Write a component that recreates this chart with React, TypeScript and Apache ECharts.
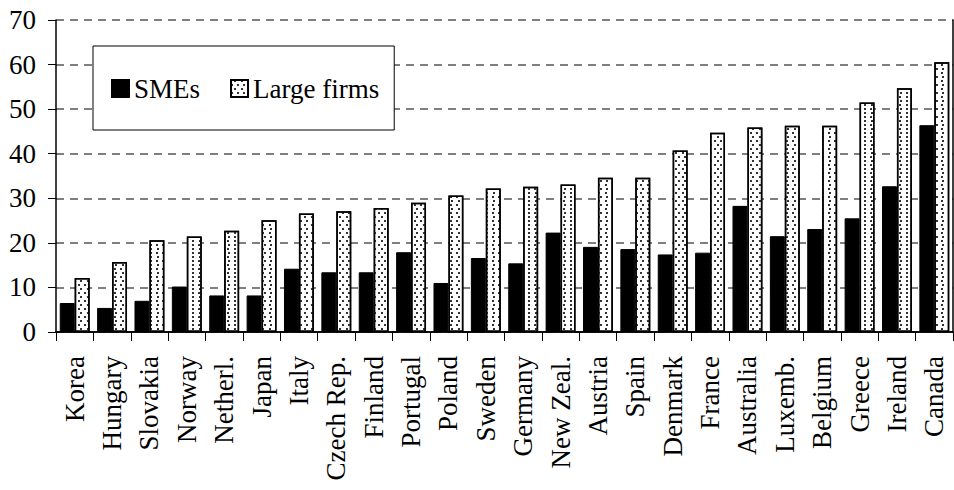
import React, { useEffect, useRef } from "react";
import * as echarts from "echarts";

const categories = ["Korea", "Hungary", "Slovakia", "Norway", "Netherl.", "Japan", "Italy", "Czech Rep.", "Finland", "Portugal", "Poland", "Sweden", "Germany", "New Zeal.", "Austria", "Spain", "Denmark", "France", "Australia", "Luxemb.", "Belgium", "Greece", "Ireland", "Canada"];
const smes = [6.5, 5.4, 7.0, 10.2, 8.2, 8.2, 14.2, 13.4, 13.4, 17.9, 11.0, 16.6, 15.4, 22.3, 19.1, 18.6, 17.4, 17.8, 28.3, 21.5, 23.1, 25.5, 32.7, 46.4];
const largeFirms = [12.1, 15.7, 20.6, 21.4, 22.7, 25.1, 26.6, 27.1, 27.8, 29.0, 30.6, 32.2, 32.6, 33.1, 34.6, 34.6, 40.7, 44.7, 45.9, 46.3, 46.3, 51.5, 54.7, 60.5];
const yTicks = [0, 10, 20, 30, 40, 50, 60, 70];

const FONT = "'Liberation Serif', 'Times New Roman', serif";

export default function App() {
  const ref = useRef<HTMLDivElement>(null);
  useEffect(() => {
    if (!ref.current) return;
    const chart = echarts.init(ref.current, null, { renderer: "svg" });
    const decal = {
      symbol: "rect",
      symbolSize: 1,
      color: "#333",
      backgroundColor: "#fff",
      dashArrayX: [[1.2, 3.8], [0, 2.5, 1.2, 1.3]],
      dashArrayY: [1.2, 1.8],
      rotation: 0,
    };
    chart.setOption({
      animation: false,
      backgroundColor: "#fff",
      textStyle: { fontFamily: FONT },
      grid: { left: 56, right: 1, top: 20, bottom: 158, containLabel: false },
      legend: {
        left: 93,
        top: 46,
        orient: "horizontal",
        backgroundColor: "#fff",
        borderColor: "#000",
        borderWidth: 1,
        padding: [29, 15, 28, 18],
        itemGap: 30,
        itemWidth: 17,
        itemHeight: 17,
        textStyle: { fontFamily: FONT, fontSize: 27, color: "#000" },
        data: [
          { name: "SMEs", icon: "rect" },
          { name: "Large firms", icon: "rect" },
        ],
      },
      xAxis: [
        {
          type: "category",
          data: categories,
          position: "bottom",
          axisLine: { show: true, lineStyle: { color: "#000", width: 1.5 } },
          axisTick: { show: true, length: 9, lineStyle: { color: "#000", width: 1 } },
          axisLabel: {
            rotate: 90,
            align: "right",
            verticalAlign: "middle",
            margin: 24,
            interval: 0,
            hideOverlap: false,
            formatter: (v: string) => "{a|" + v + "}",
            rich: {
              a: {
                width: 140,
                align: "right",
                fontFamily: FONT,
                fontSize: 27,
                color: "#000",
              },
            },
          },
          splitLine: { show: false },
        },
        {
          type: "category",
          data: categories,
          position: "top",
          axisLine: { show: true, lineStyle: { color: "#000", width: 1.5 } },
          axisTick: { show: false },
          axisLabel: { show: false },
          splitLine: { show: false },
        },
      ],
      yAxis: [
        {
          type: "value",
          min: 0,
          max: 70,
          interval: 10,
          position: "left",
          axisLine: { show: true, lineStyle: { color: "#000", width: 1.5 } },
          axisTick: { show: true, length: 8, lineStyle: { color: "#000", width: 1 } },
          axisLabel: {
            margin: 20,
            fontFamily: FONT,
            fontSize: 27,
            color: "#000",
            formatter: (v: number) => (yTicks.includes(v) ? String(v) : ""),
          },
          splitLine: {
            show: true,
            lineStyle: { color: "#555", width: 1.5, type: [8, 6] },
          },
        },
        {
          type: "value",
          min: 0,
          max: 70,
          interval: 10,
          position: "right",
          axisLine: { show: true, lineStyle: { color: "#000", width: 1.5 } },
          axisTick: { show: false },
          axisLabel: { show: false },
          splitLine: { show: false },
        },
      ],
      series: [
        {
          name: "SMEs",
          type: "bar",
          data: smes,
          barGap: "0%",
          barCategoryGap: "20%",
          itemStyle: { color: "#000", borderColor: "#000", borderWidth: 1 },
          z: 3,
        },
        {
          name: "Large firms",
          type: "bar",
          data: largeFirms,
          barGap: "0%",
          barCategoryGap: "20%",
          itemStyle: { color: "#fff", borderColor: "#000", borderWidth: 1.5, decal },
          z: 3,
        },
      ],
    });
    return () => chart.dispose();
  }, []);
  return <div ref={ref} style={{ width: 954, height: 490, position: "absolute", left: 0, top: 0 }} />;
}
